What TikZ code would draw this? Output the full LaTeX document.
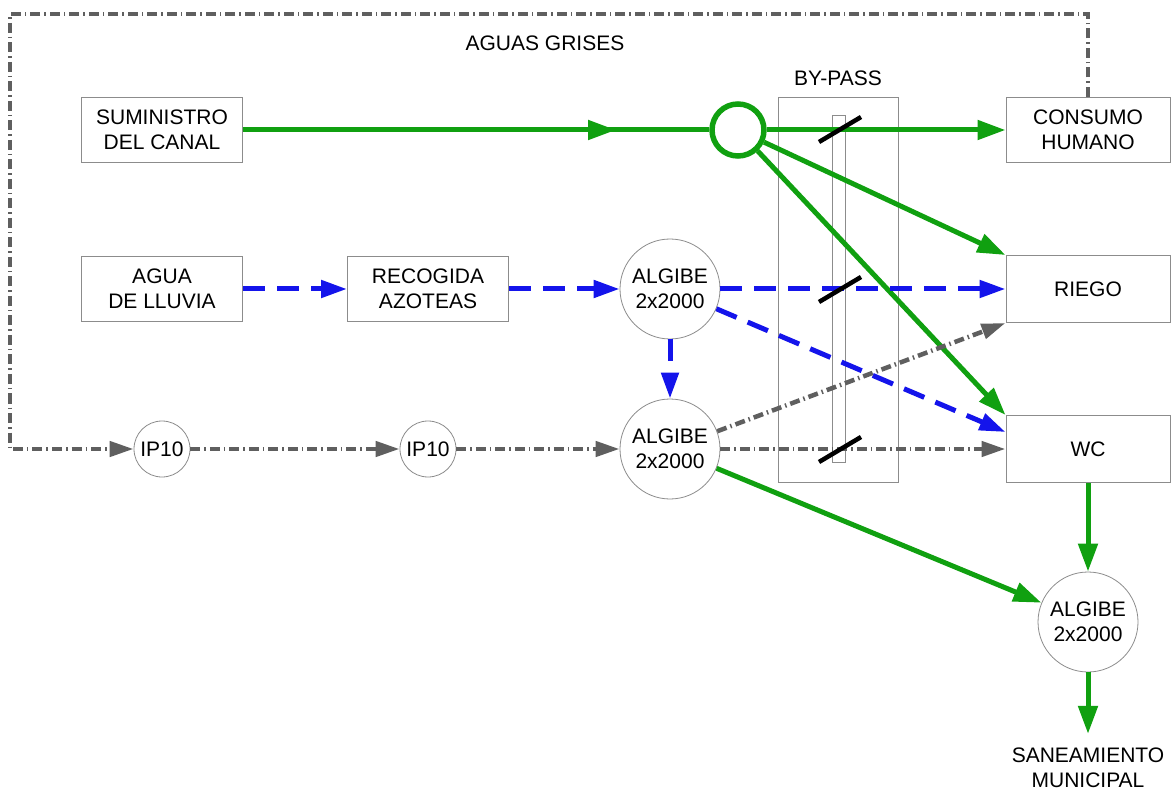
\documentclass[tikz,border=0pt]{standalone}
\usepackage{fontspec}
\setmainfont{Liberation Sans}
\usetikzlibrary{arrows.meta,decorations.markings,calc}
\definecolor{gr}{RGB}{16,160,16}
\definecolor{bl}{RGB}{20,20,235}
\definecolor{gy}{RGB}{95,95,95}
\definecolor{bx}{RGB}{140,140,140}
\begin{document}
\begin{tikzpicture}[x=1pt,y=-1pt,
  txt/.style={font=\fontsize{21}{25}\selectfont, align=center},
  lbl/.style={txt, inner sep=0pt},
  box/.style={txt, draw=bx, line width=1pt, fill=white, minimum width=161pt, minimum height=65pt},
  tank/.style={txt, circle, draw=bx, line width=0.8pt, fill=white, minimum size=100pt, inner sep=0pt},
  ip/.style={tank, minimum size=56pt},
  gflow/.style={draw=gr, line width=5pt, -{Triangle[length=28pt,width=19pt]}},
  bflow/.style={draw=bl, line width=5pt, dash pattern=on 22pt off 12pt, -{Triangle[length=26pt,width=17pt]}},
  gyflow/.style={draw=gy, line width=4.5pt, dash pattern=on 10pt off 4pt on 1.5pt off 4pt, -{Triangle[length=24pt,width=15pt]}},
  slash/.style={draw=black, line width=4.5pt},
  frame/.style={draw=bx, line width=0.8pt, inner sep=0pt}
]
\useasboundingbox (0,0) rectangle (1172,791);

% by-pass frame
\node[frame, minimum width=120pt, minimum height=385pt] (bypass) at (838,289.5) {};
\node[frame, minimum width=13pt, minimum height=347pt] (bpin) at (838.5,288.5) {};

% nodes
\node[box] (sum) at (162,130) {SUMINISTRO\\DEL CANAL};
\node[box] (agua) at (162,289) {AGUA\\DE LLUVIA};
\node[box] (rec) at (428,289) {RECOGIDA\\AZOTEAS};
\node[box, minimum width=164pt] (cons) at (1088,130) {CONSUMO\\HUMANO};
\node[box, minimum width=164pt, minimum height=67pt] (riego) at (1088,289) {RIEGO};
\node[box, minimum width=164pt, minimum height=67pt] (wc) at (1088,449) {WC};
\node[tank] (a1) at (670,289) {ALGIBE\\2x2000};
\node[tank] (a2) at (670,449) {ALGIBE\\2x2000};
\node[tank] (a3) at (1088,622) {ALGIBE\\2x2000};
\node[ip] (ip1) at (162,449) {IP10};
\node[ip] (ip2) at (428,449) {IP10};
\node[circle, draw=gr, line width=5.5pt, minimum size=52pt, inner sep=0pt] (j) at (738,130) {};
\node[lbl] (ag) at (545,43) {AGUAS GRISES};
\node[lbl] (bp) at (838,78) {BY-PASS};
\node[lbl, inner ysep=14pt] (san) at (1088,768) {SANEAMIENTO\\MUNICIPAL};

% grey water loop
\coordinate (c1) at (1088,14);
\coordinate (c2) at (10,14);
\coordinate (c3) at (10,449);
\draw[gyflow] (cons.north) -- (c1) -- (c2) -- (c3) -- (ip1);

% green supply
\draw[draw=gr, line width=5pt,
  decoration={markings, mark=at position 0.8 with {\arrow[color=gr]{Triangle[length=28pt,width=19pt]}}},
  postaction={decorate}] (sum) -- (j);
\draw[gflow] (j) -- (cons);
\draw[gflow] (j) -- (riego.north west);
\draw[gflow] (j) -- (wc.north west);

% rain water
\coordinate (wcin) at ($(wc.north west)!0.25!(wc.south west)$);
\draw[bflow] (agua) -- (rec);
\draw[bflow] (rec) -- (a1);
\draw[bflow] (a1) -- (riego);
\draw[bflow] (a1) -- (wcin);
\draw[bflow] (a1) -- (a2);

% grey water
\draw[gyflow] (ip1) -- (ip2);
\draw[gyflow] (ip2) -- (a2);
\draw[gyflow] (a2) -- (wc);
\draw[gyflow] (a2) -- (riego.south west);

% drainage
\draw[gflow] (a2) -- (a3);
\draw[gflow] (wc) -- (a3);
\draw[gflow] (a3) -- (san);

% valves
\draw[slash] (819,142) -- (861,117);
\draw[slash] (819,302) -- (861,277);
\draw[slash] (819,462) -- (861,437);
\end{tikzpicture}
\end{document}
